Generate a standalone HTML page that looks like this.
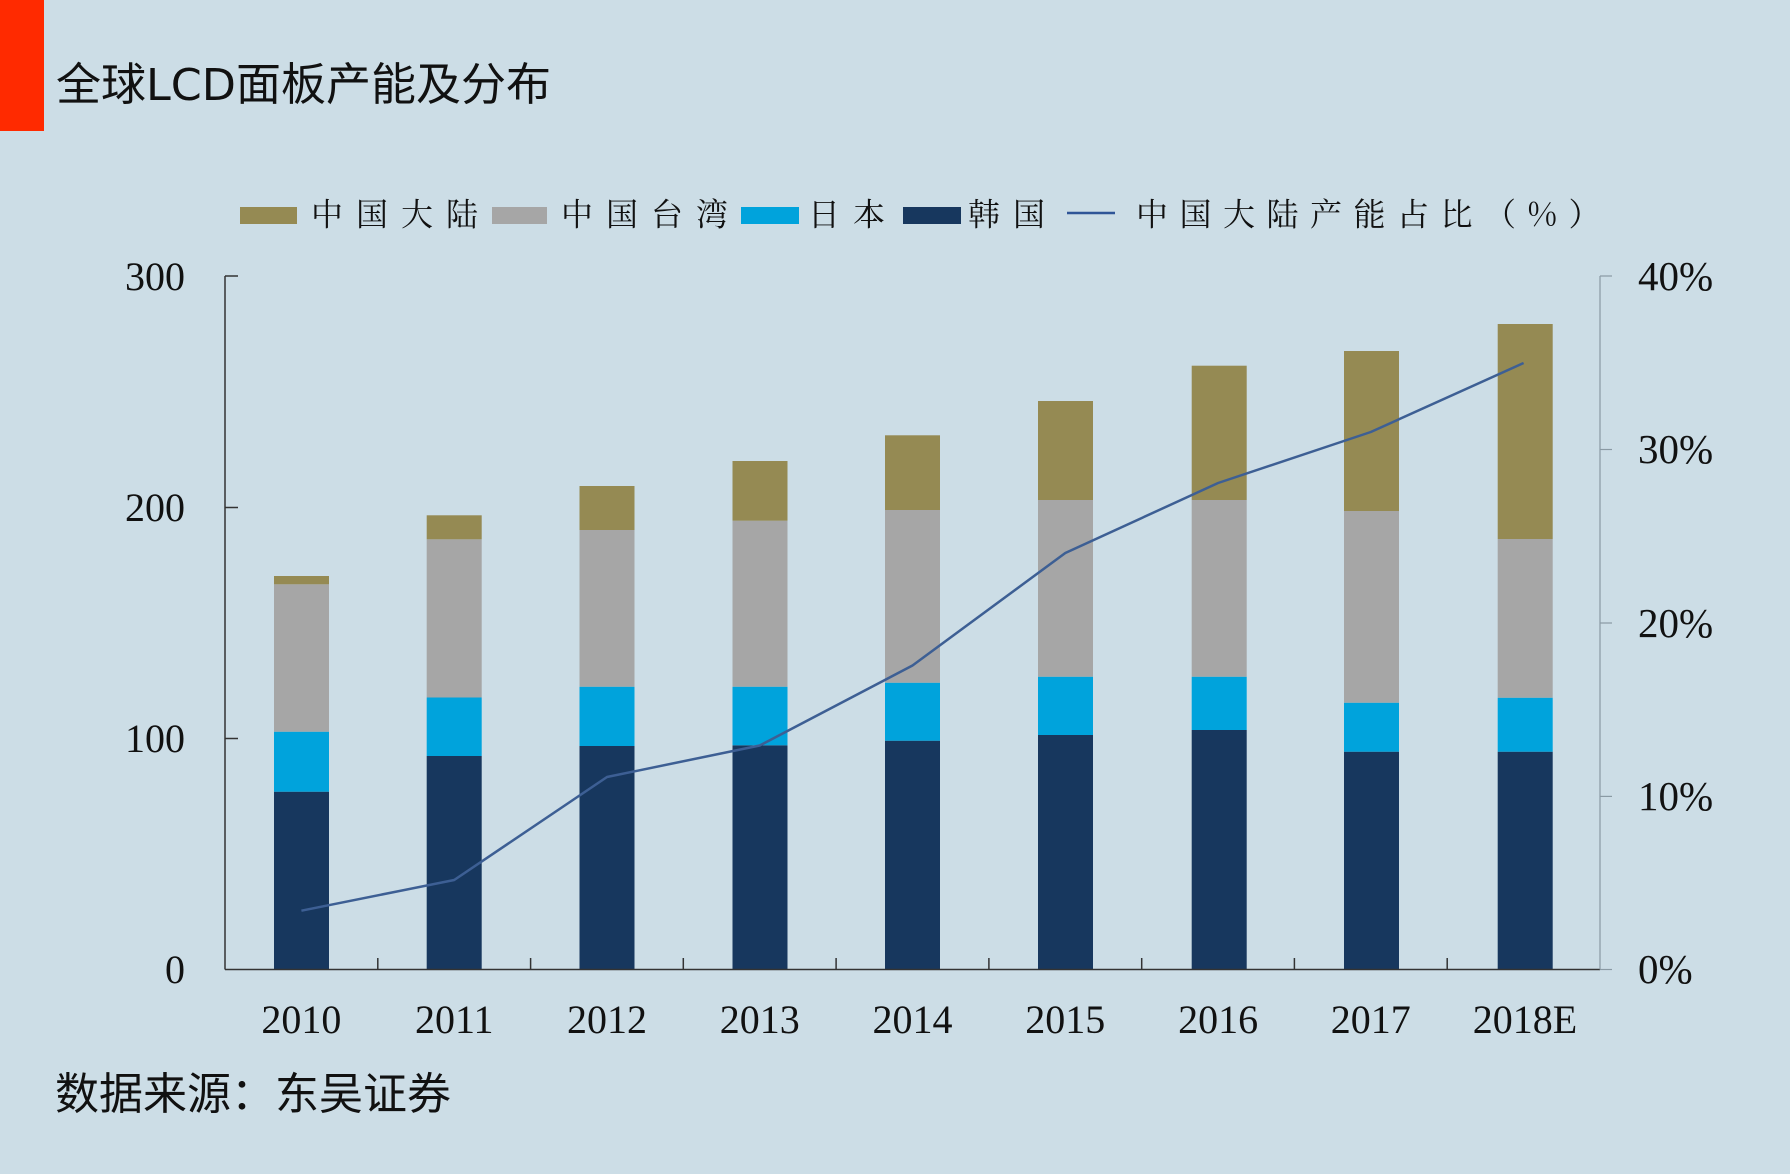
<!DOCTYPE html>
<html>
<head>
<meta charset="utf-8">
<style>
html,body{margin:0;padding:0;background:#ccdde6;}
svg{display:block;}
</style>
</head>
<body>
<svg width="1790" height="1174" viewBox="0 0 1790 1174" xmlns="http://www.w3.org/2000/svg">
<rect x="0" y="0" width="1790" height="1174" fill="#ccdde6"/>
<!-- red bar -->
<rect x="0" y="0" width="44" height="131" fill="#ff2a00"/>
<!-- title -->
<g font-family="'Noto Sans CJK SC', 'WenQuanYi Zen Hei', sans-serif" font-size="45" fill="#111">
<text x="56" y="100">全球</text>
<text x="146" y="100" textLength="90" lengthAdjust="spacingAndGlyphs" font-family="'DejaVu Sans', 'Liberation Sans', sans-serif" font-size="44">LCD</text>
<text x="236" y="100">面板产能及分布</text>
</g>

<!-- legend -->
<rect x="240" y="207" width="57" height="17" fill="#958a53"/>
<rect x="492" y="207" width="55" height="17" fill="#a6a6a6"/>
<rect x="741" y="207" width="58" height="17" fill="#00a3dc"/>
<rect x="903" y="207" width="58" height="17" fill="#17375e"/>
<line x1="1067" y1="213" x2="1115" y2="213" stroke="#2f5597" stroke-width="2.5"/>
<g font-family="'Noto Serif CJK SC', 'Liberation Serif', serif" font-size="32" fill="#111" letter-spacing="13">
<text x="311" y="225.5">中国大陆</text>
<text x="561" y="225.5">中国台湾</text>
<text x="808" y="225.5">日本</text>
<text x="968" y="225.5">韩国</text>
<text x="1136" y="225.5" letter-spacing="11.5">中国大陆产能占比（%）</text>
</g>

<!-- bars -->
<g>
<!-- 2010 -->
<rect x="274" y="791.7" width="55" height="177.8" fill="#17375e"/>
<rect x="274" y="731.7" width="55" height="60" fill="#00a3dc"/>
<rect x="274" y="584.3" width="55" height="147.4" fill="#a6a6a6"/>
<rect x="274" y="576" width="55" height="8.3" fill="#958a53"/>
<!-- 2011 -->
<rect x="426.7" y="756" width="55" height="213.5" fill="#17375e"/>
<rect x="426.7" y="697.5" width="55" height="58.5" fill="#00a3dc"/>
<rect x="426.7" y="539.3" width="55" height="158.2" fill="#a6a6a6"/>
<rect x="426.7" y="515.3" width="55" height="24" fill="#958a53"/>
<!-- 2012 -->
<rect x="579.5" y="746" width="55" height="223.5" fill="#17375e"/>
<rect x="579.5" y="686.7" width="55" height="59.3" fill="#00a3dc"/>
<rect x="579.5" y="530" width="55" height="156.7" fill="#a6a6a6"/>
<rect x="579.5" y="486" width="55" height="44" fill="#958a53"/>
<!-- 2013 -->
<rect x="732.5" y="745.3" width="55" height="224.2" fill="#17375e"/>
<rect x="732.5" y="686.7" width="55" height="58.6" fill="#00a3dc"/>
<rect x="732.5" y="520.7" width="55" height="166" fill="#a6a6a6"/>
<rect x="732.5" y="461" width="55" height="59.7" fill="#958a53"/>
<!-- 2014 -->
<rect x="885" y="740.7" width="55" height="228.8" fill="#17375e"/>
<rect x="885" y="682.7" width="55" height="58" fill="#00a3dc"/>
<rect x="885" y="510" width="55" height="172.7" fill="#a6a6a6"/>
<rect x="885" y="435.3" width="55" height="74.7" fill="#958a53"/>
<!-- 2015 -->
<rect x="1038" y="735" width="55" height="234.5" fill="#17375e"/>
<rect x="1038" y="676.7" width="55" height="58.3" fill="#00a3dc"/>
<rect x="1038" y="500" width="55" height="176.7" fill="#a6a6a6"/>
<rect x="1038" y="401" width="55" height="99" fill="#958a53"/>
<!-- 2016 -->
<rect x="1191.7" y="730" width="55" height="239.5" fill="#17375e"/>
<rect x="1191.7" y="676.7" width="55" height="53.3" fill="#00a3dc"/>
<rect x="1191.7" y="500" width="55" height="176.7" fill="#a6a6a6"/>
<rect x="1191.7" y="365.7" width="55" height="134.3" fill="#958a53"/>
<!-- 2017 -->
<rect x="1344" y="751.7" width="55" height="217.8" fill="#17375e"/>
<rect x="1344" y="702.7" width="55" height="49" fill="#00a3dc"/>
<rect x="1344" y="511" width="55" height="191.7" fill="#a6a6a6"/>
<rect x="1344" y="351" width="55" height="160" fill="#958a53"/>
<!-- 2018E -->
<rect x="1497.7" y="751.7" width="55" height="217.8" fill="#17375e"/>
<rect x="1497.7" y="697.7" width="55" height="54" fill="#00a3dc"/>
<rect x="1497.7" y="539" width="55" height="158.7" fill="#a6a6a6"/>
<rect x="1497.7" y="324" width="55" height="215" fill="#958a53"/>
</g>

<!-- line -->
<polyline fill="none" stroke="#3d5f94" stroke-width="2.5" stroke-linejoin="round"
points="301.4,910.7 454.2,880 607,777 759.7,745.5 912.5,665.5 1065.3,553 1218.1,483 1370.8,432 1523.6,363"/>

<!-- left axis -->
<g stroke="#333" stroke-width="1.5">
<line x1="225" y1="276" x2="225" y2="969.5"/>
<line x1="225" y1="969.5" x2="1600" y2="969.5"/>
<line x1="225" y1="276" x2="238" y2="276"/>
<line x1="225" y1="507.5" x2="238" y2="507.5"/>
<line x1="225" y1="738.5" x2="238" y2="738.5"/>
<line x1="377.8" y1="969.5" x2="377.8" y2="958"/>
<line x1="530.6" y1="969.5" x2="530.6" y2="958"/>
<line x1="683.3" y1="969.5" x2="683.3" y2="958"/>
<line x1="836.1" y1="969.5" x2="836.1" y2="958"/>
<line x1="988.9" y1="969.5" x2="988.9" y2="958"/>
<line x1="1141.7" y1="969.5" x2="1141.7" y2="958"/>
<line x1="1294.4" y1="969.5" x2="1294.4" y2="958"/>
<line x1="1447.2" y1="969.5" x2="1447.2" y2="958"/>
</g>
<!-- right axis -->
<g stroke="#8a9aa4" stroke-width="1.2">
<line x1="1600" y1="276" x2="1600" y2="969.5"/>
<line x1="1600" y1="276" x2="1612" y2="276"/>
<line x1="1600" y1="449.5" x2="1612" y2="449.5"/>
<line x1="1600" y1="623" x2="1612" y2="623"/>
<line x1="1600" y1="796.4" x2="1612" y2="796.4"/>
<line x1="1600" y1="969.5" x2="1612" y2="969.5"/>
</g>

<!-- axis labels -->
<g font-family="'Liberation Serif', serif" font-size="40" fill="#111">
<g text-anchor="end">
<text x="185" y="290">300</text>
<text x="185" y="521">200</text>
<text x="185" y="752">100</text>
<text x="185" y="983">0</text>
</g>
<g text-anchor="start" font-size="41">
<text x="1638" y="290">40%</text>
<text x="1638" y="463">30%</text>
<text x="1638" y="637">20%</text>
<text x="1638" y="810">10%</text>
<text x="1638" y="983">0%</text>
</g>
<g text-anchor="middle">
<text x="301.4" y="1033">2010</text>
<text x="454.2" y="1033">2011</text>
<text x="607" y="1033">2012</text>
<text x="759.7" y="1033">2013</text>
<text x="912.5" y="1033">2014</text>
<text x="1065.3" y="1033">2015</text>
<text x="1218.1" y="1033">2016</text>
<text x="1370.8" y="1033">2017</text>
<text x="1525" y="1033">2018E</text>
</g>
</g>

<!-- footer -->
<text x="55" y="1109" font-family="'Noto Sans CJK SC', 'WenQuanYi Zen Hei', sans-serif" font-size="44" fill="#111">数据来源：东吴证券</text>
</svg>
</body>
</html>
